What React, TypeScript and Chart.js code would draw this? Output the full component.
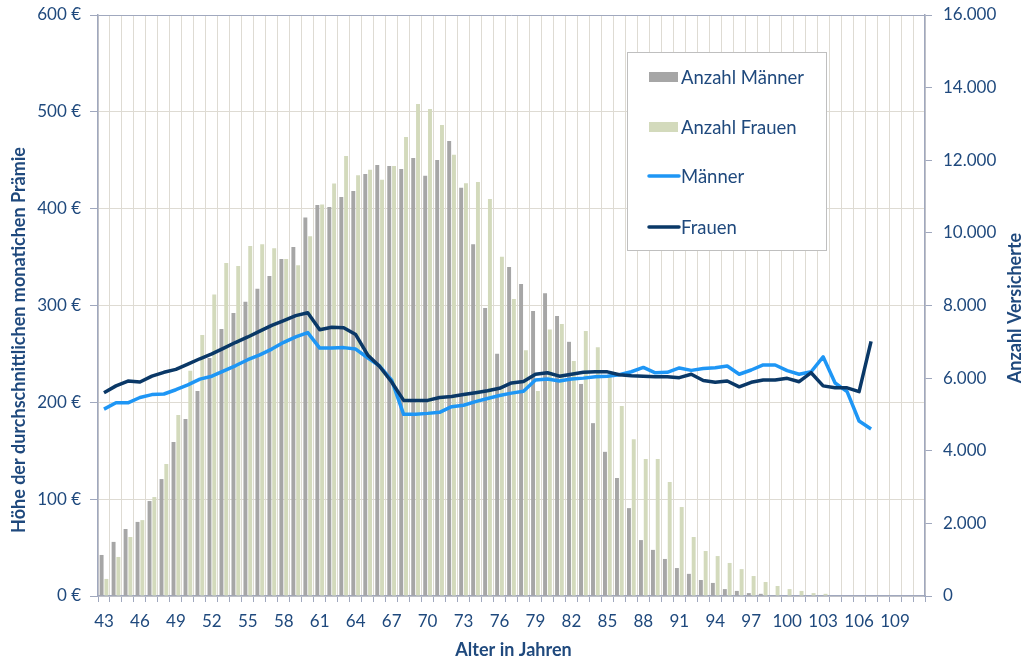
import { useEffect, useRef } from 'react';
import { Chart, registerables } from 'chart.js';

Chart.register(...registerables);

// Ages 43..111
const ages: string[] = [];
for (let a = 43; a <= 111; a++) ages.push(String(a));

const maennerCount = [
  1130, 1490, 1845, 2040, 2615, 3220, 4240, 4875, 5645, 6555,
  7350, 7795, 8100, 8460, 8810, 9280, 9610, 10420, 10770, 10710,
  10990, 11150, 11620, 11870, 11840, 11760, 12060, 11570, 12010, 12530,
  11240, 9690, 7930, 6670, 9060, 8590, 7850, 8340, 7710, 7000,
  5840, 4760, 3970, 3250, 2420, 1540, 1270, 1020, 770, 610,
  440, 360, 190, 140, 80, 60, 20, 0, 0, 0,
  0, 0, 0, 0, 0, 0, 0, 0, 0,
];

const frauenCount = [
  470, 1075, 1625, 2090, 2725, 3635, 4985, 6200, 7190, 8300,
  9170, 9090, 9640, 9690, 9580, 9280, 9110, 9910, 10780, 11360,
  12120, 11590, 11740, 11460, 11840, 12640, 13550, 13410, 12970, 12150,
  11370, 11400, 10930, 9340, 8180, 6770, 5645, 7340, 7490, 6470,
  7300, 6850, 6030, 5230, 4320, 3770, 3770, 3140, 2450, 1625,
  1240, 1100, 910, 740, 550, 385, 275, 190, 140, 80,
  60, 0, 0, 0, 0, 0, 0, 0, 0,
];

const maennerPraemie = [
  193, 199.5, 199.5, 205, 208, 208.6, 213, 218, 224, 227,
  232.5, 238, 244, 249, 255, 262, 267.5, 272, 256, 256,
  256.5, 255, 246, 237.5, 223, 187.6, 187.8, 188.6, 189.7, 195.5,
  197, 200.7, 204, 207, 209.5, 211.5, 223, 224, 222, 224,
  225, 226.5, 227, 228.5, 231.6, 236, 230.5, 231, 235.5, 233,
  235, 235.8, 237.5, 229, 233.4, 238.6, 238.6, 232.7, 229, 231.6,
  247, 220, 211, 180.7, 172.5, null, null, null, null,
];

const frauenPraemie = [
  210, 217, 222, 221, 227, 231, 234, 239.5, 245, 250,
  256, 262, 267.5, 273.5, 279.5, 284.5, 289.5, 292.5, 275, 277.5,
  277, 270, 249, 237, 221, 202, 202, 202, 205, 206,
  208, 210, 212, 214.5, 220, 221.5, 229, 230.5, 227, 229,
  231, 231.5, 231.5, 228.5, 227.5, 227, 226.5, 226.5, 225.5, 229,
  222.5, 220.7, 222, 216, 220.7, 223, 223, 224.8, 221.3, 230.6,
  217, 215, 215, 211, 263, null, null, null, null,
];

const xTickEvery = 3;

const TEXT = '#1F497D';
const GRID = '#DEDBD3';
const AXIS = '#A0A8BE';
const C_M_BAR = '#A6A6A6';
const C_F_BAR = '#D3DABC';
const C_M_LINE = '#1E96F5';
const C_F_LINE = '#0A3867';
const FONT = 'Lato';

const fmtDe = (n: number) => String(n).replace(/\B(?=(\d{3})+(?!\d))/g, '.');

const decorPlugin = {
  id: 'decor',
  afterDraw(chart: any) {
    const ctx = chart.ctx as CanvasRenderingContext2D;
    const ca = chart.chartArea;
    ctx.save();
    ctx.fillStyle = TEXT;
    ctx.font = `bold 18px ${FONT}`;
    ctx.textAlign = 'center';
    ctx.textBaseline = 'middle';
    ctx.fillText('Alter in Jahren', (ca.left + ca.right) / 2 + 2, 650);

    ctx.save();
    ctx.translate(19, 340);
    ctx.rotate(-Math.PI / 2);
    ctx.fillText('Höhe der durchschnittlichen monatichen Prämie', 0, 0);
    ctx.restore();

    ctx.save();
    ctx.translate(1015, 308);
    ctx.rotate(-Math.PI / 2);
    ctx.fillText('Anzahl Versicherte', 0, 0);
    ctx.restore();

    // Legend
    const bx = 627.5, by = 52.5, bw = 199, bh = 198;
    ctx.fillStyle = '#FFFFFF';
    ctx.fillRect(bx, by, bw, bh);
    ctx.strokeStyle = '#BFBFBF';
    ctx.lineWidth = 1;
    ctx.strokeRect(bx, by, bw, bh);

    const items = [
      { label: 'Anzahl Männer', type: 'box', color: C_M_BAR, y: 77 },
      { label: 'Anzahl Frauen', type: 'box', color: C_F_BAR, y: 127 },
      { label: 'Männer', type: 'line', color: C_M_LINE, y: 176 },
      { label: 'Frauen', type: 'line', color: C_F_LINE, y: 227 },
    ];
    ctx.font = `18.5px ${FONT}`;
    ctx.textAlign = 'left';
    for (const it of items) {
      if (it.type === 'box') {
        ctx.fillStyle = it.color;
        ctx.fillRect(649, it.y - 5, 29, 10);
      } else {
        ctx.strokeStyle = it.color;
        ctx.lineWidth = 3.5;
        ctx.lineCap = 'round';
        ctx.beginPath();
        ctx.moveTo(649, it.y);
        ctx.lineTo(679, it.y);
        ctx.stroke();
      }
      ctx.fillStyle = TEXT;
      ctx.fillText(it.label, 681, it.y + 1);
    }
    ctx.restore();
  },
};

export default function App() {
  const ref = useRef<HTMLCanvasElement>(null);

  useEffect(() => {
    Chart.defaults.font.family = FONT;
    const chart = new Chart(ref.current!, {
      type: 'bar',
      data: {
        labels: ages,
        datasets: [
          {
            type: 'line',
            label: 'Frauen',
            data: frauenPraemie,
            yAxisID: 'y',
            borderColor: C_F_LINE,
            borderWidth: 3.5,
            pointRadius: 0,
            tension: 0,
            borderJoinStyle: 'round',
            order: 0,
          },
          {
            type: 'line',
            label: 'Männer',
            data: maennerPraemie,
            yAxisID: 'y',
            borderColor: C_M_LINE,
            borderWidth: 3.5,
            pointRadius: 0,
            tension: 0,
            borderJoinStyle: 'round',
            order: 1,
          },
          {
            type: 'bar',
            label: 'Anzahl Männer',
            data: maennerCount,
            yAxisID: 'y1',
            backgroundColor: C_M_BAR,
            categoryPercentage: 0.8,
            barPercentage: 0.82,
            order: 2,
          },
          {
            type: 'bar',
            label: 'Anzahl Frauen',
            data: frauenCount,
            yAxisID: 'y1',
            backgroundColor: C_F_BAR,
            categoryPercentage: 0.8,
            barPercentage: 0.82,
            order: 3,
          },
        ] as any,
      },
      options: {
        animation: false,
        responsive: true,
        maintainAspectRatio: false,
        layout: { padding: { top: 15, left: 0, right: 0, bottom: 0 } },
        plugins: {
          legend: { display: false },
          tooltip: { enabled: false },
          title: { display: false },
        },
        scales: {
          x: {
            type: 'category',
            offset: true,
            grid: {
              offset: true,
              color: GRID,
              lineWidth: 1,
              tickColor: AXIS,
              tickLength: 6,
              drawOnChartArea: true,
            },
            border: { color: AXIS, width: 1.5 },
            ticks: {
              autoSkip: false,
              maxRotation: 0,
              minRotation: 0,
              padding: 9,
              color: TEXT,
              font: { size: 17 },
              callback: (_v: any, i: number) => (i % xTickEvery === 0 ? ages[i] : ''),
            },
            afterFit: (s: any) => {
              s.height = 67;
              s.paddingLeft = 0;
              s.paddingRight = 0;
            },
          },
          y: {
            position: 'left',
            min: 0,
            max: 600,
            grid: {
              color: (c: any) => (c.tick && c.tick.value === 600 ? AXIS : GRID),
              tickColor: AXIS,
              tickLength: 8,
            },
            border: { color: AXIS, width: 1.5 },
            ticks: {
              stepSize: 100,
              padding: 9,
              color: TEXT,
              font: { size: 17 },
              callback: (v: any) => `${v} €`,
            },
            afterFit: (s: any) => {
              s.width = 98;
              s.paddingTop = 0;
              s.paddingBottom = 0;
            },
          },
          y1: {
            position: 'right',
            min: 0,
            max: 16000,
            grid: {
              drawOnChartArea: false,
              tickColor: AXIS,
              tickLength: 7,
            },
            border: { color: AXIS, width: 1.5 },
            ticks: {
              stepSize: 2000,
              padding: 11,
              color: TEXT,
              font: { size: 17 },
              callback: (v: any) => fmtDe(Number(v)),
            },
            afterFit: (s: any) => {
              s.width = 103;
              s.paddingTop = 0;
              s.paddingBottom = 0;
            },
          },
        },
      } as any,
      plugins: [decorPlugin],
    });
    return () => chart.destroy();
  }, []);

  return (
    <div
      style={{
        position: 'fixed',
        left: 0,
        top: 0,
        width: 1028,
        height: 663,
        background: '#FFFFFF',
      }}
    >
      <canvas ref={ref} />
    </div>
  );
}
